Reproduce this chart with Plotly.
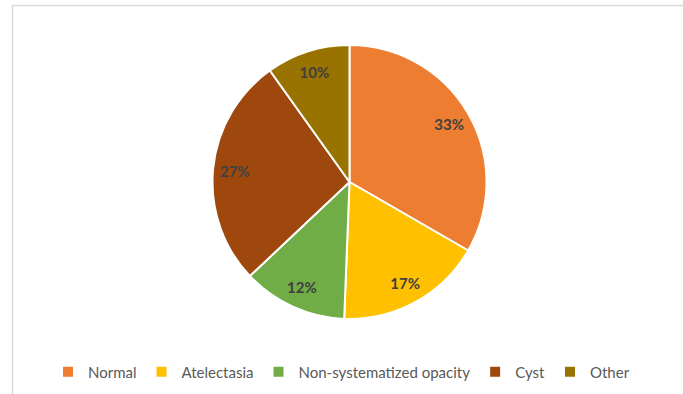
import plotly.graph_objects as go

categories = ["Normal", "Atelectasia", "Non-systematized opacity", "Cyst", "Other"]
counts = [27, 14, 10, 22, 8]
colors = ["#ED7D31", "#FFC000", "#70AD47", "#9E480E", "#997300"]

W, H = 683, 394
cx, cy, r = 349.5, 182, 137
dom_x = [(cx - r) / W, (cx + r) / W]
dom_y = [1 - (cy + r) / H, 1 - (cy - r) / H]

fig = go.Figure()
fig.add_trace(go.Pie(
    labels=categories, values=counts, sort=False, direction="clockwise", rotation=0,
    marker=dict(colors=colors, line=dict(color="white", width=2)),
    textinfo="none", domain=dict(x=dom_x, y=dom_y), hoverinfo="label+percent",
))
fig.add_trace(go.Pie(
    labels=categories, values=counts, sort=False, direction="clockwise", rotation=0,
    hole=0.68, showlegend=False, hoverinfo="skip",
    marker=dict(colors=["rgba(0,0,0,0)"] * 5, line=dict(width=0)),
    texttemplate="<b>%{percent:.0%}</b>", textposition="inside",
    insidetextorientation="horizontal",
    textfont=dict(family="Lato", size=15, color="#404040"),
    domain=dict(x=dom_x, y=dom_y),
))
fig.add_shape(type="rect", xref="paper", yref="paper",
              x0=12.5 / W, x1=1.2, y0=-0.2, y1=1 - 5.5 / H,
              line=dict(color="#D9D9D9", width=1.5), fillcolor="rgba(0,0,0,0)", layer="below")
fig.update_layout(
    width=W, height=H, margin=dict(l=0, r=0, t=0, b=0),
    paper_bgcolor="white", plot_bgcolor="white",
    font=dict(family="Lato", color="#595959"),
    legend=dict(orientation="h", x=0.5, xanchor="center", y=(H - 372) / H, yanchor="middle",
                font=dict(size=15, color="#595959"), itemwidth=30, traceorder="normal"),
)
fig.write_html("out.html")
